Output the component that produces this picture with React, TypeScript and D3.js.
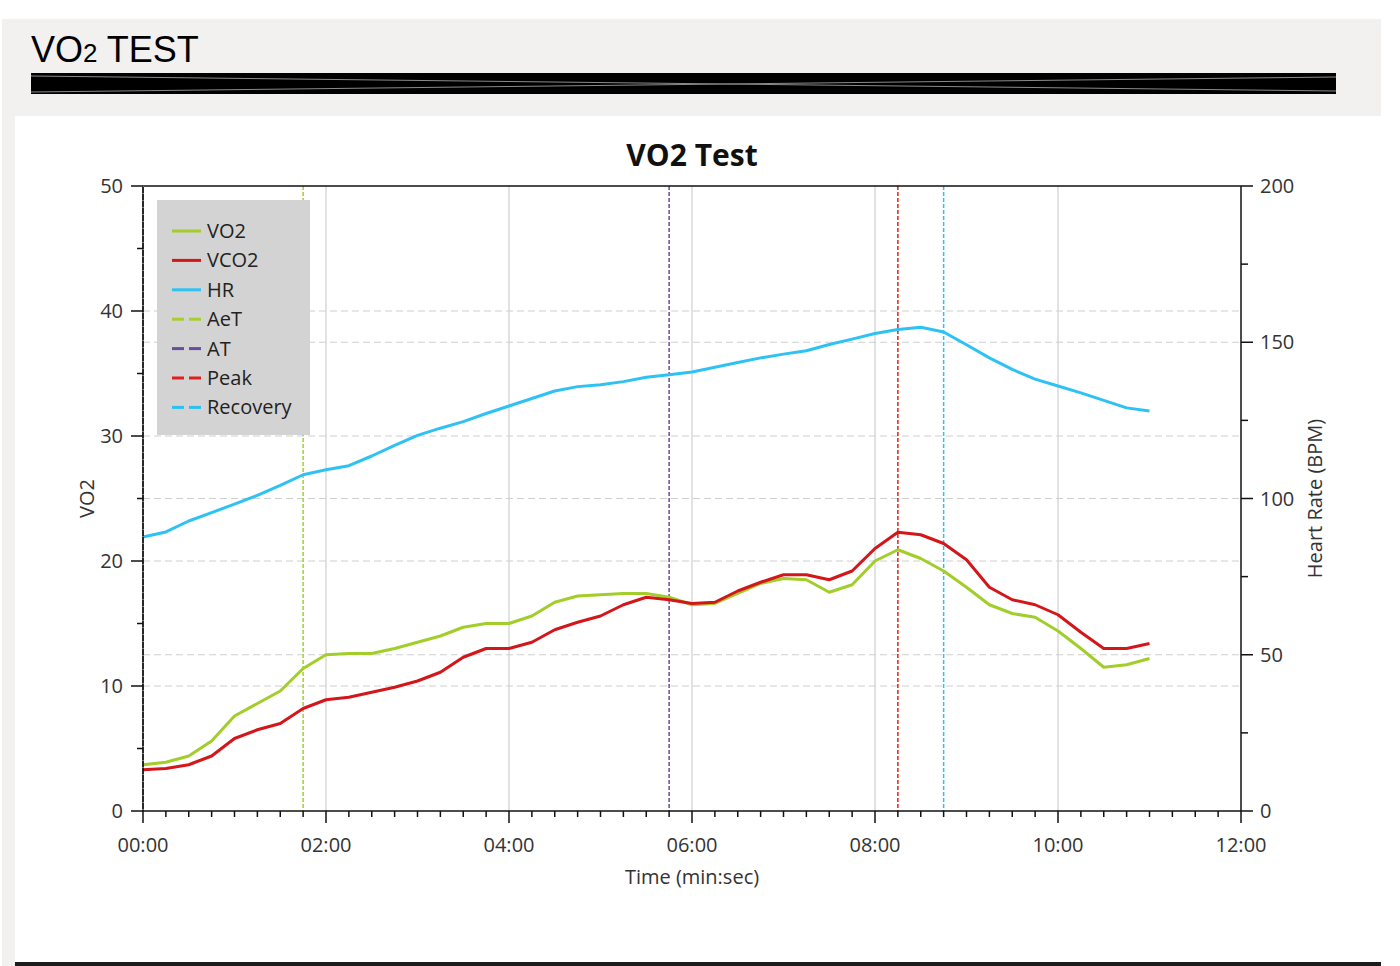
import { useMemo } from 'react';
import * as d3 from 'd3';

const width = 1400;
const height = 966;
const margin = { top: 186, right: 159, bottom: 155, left: 143 };

// Zeitpunkte (min:sec), alle 15 Sekunden
const timeLabels = [
    '00:00', '00:15', '00:30', '00:45', '01:00', '01:15', '01:30', '01:45', '02:00',
    '02:15', '02:30', '02:45', '03:00', '03:15', '03:30', '03:45', '04:00',
    '04:15', '04:30', '04:45', '05:00', '05:15', '05:30', '05:45', '06:00',
    '06:15', '06:30', '06:45', '07:00', '07:15', '07:30', '07:45', '08:00',
    '08:15', '08:30', '08:45', '09:00', '09:15', '09:30', '09:45', '10:00',
    '10:15', '10:30', '10:45', '11:00',
];

const vo2 = [
    3.7, 3.9, 4.4, 5.6, 7.6, 8.6, 9.6, 11.4, 12.5,
    12.6, 12.6, 13.0, 13.5, 14.0, 14.7, 15.0, 15.0,
    15.6, 16.7, 17.2, 17.3, 17.4, 17.4, 17.1, 16.5,
    16.6, 17.4, 18.2, 18.6, 18.5, 17.5, 18.1, 20.0,
    20.9, 20.2, 19.2, 17.9, 16.5, 15.8, 15.5, 14.4,
    13.0, 11.5, 11.7, 12.2,
];

const vco2 = [
    3.3, 3.4, 3.7, 4.4, 5.8, 6.5, 7.0, 8.2, 8.9,
    9.1, 9.5, 9.9, 10.4, 11.1, 12.3, 13.0, 13.0,
    13.5, 14.5, 15.1, 15.6, 16.5, 17.1, 16.9, 16.6,
    16.7, 17.6, 18.3, 18.9, 18.9, 18.5, 19.2, 21.0,
    22.3, 22.1, 21.4, 20.1, 17.9, 16.9, 16.5, 15.7,
    14.3, 13.0, 13.0, 13.4,
];

const hr = [
    87.7, 89.3, 92.8, 95.5, 98.2, 101, 104.2, 107.6, 109.2,
    110.5, 113.6, 117, 120.2, 122.5, 124.6, 127.2, 129.6,
    132, 134.4, 135.8, 136.4, 137.4, 138.8, 139.6, 140.5,
    142, 143.5, 145, 146.2, 147.3, 149.3, 151, 152.8,
    154.1, 154.8, 153.3, 149.2, 145, 141.3, 138.2, 136,
    133.8, 131.4, 129, 128,
];

// Schwellen-Markierungen
const markerNames = ['AeT', 'AT', 'Peak', 'Recovery'];
const markerTimes = ['01:45', '05:45', '08:15', '08:45'];
const markerColors = ['#a6cf2e', '#6a4c9c', '#e0201c', '#2ec0f0'];

const seriesNames = ['VO2', 'VCO2', 'HR'];
const seriesColors = ['#a2cd2a', '#d3161a', '#2ec2f4'];

const xTickValues = [0, 2, 4, 6, 8, 10, 12];

const toMinutes = (s: string) => {
    const [m, sec] = s.split(':').map(Number);
    return m + sec / 60;
};

const fmtTime = (m: number) => d3.format('02')(Math.floor(m)) + ':00';

const font = '"Open Sans", "Noto Sans", sans-serif';

const Vo2Chart = () => {
    const boundsWidth = width - margin.left - margin.right;
    const boundsHeight = height - margin.top - margin.bottom;

    const xScale = useMemo(() => d3.scaleLinear().domain([0, 12]).range([0, boundsWidth]), [boundsWidth]);
    const yScale = useMemo(() => d3.scaleLinear().domain([0, 50]).range([boundsHeight, 0]), [boundsHeight]);
    const hrScale = useMemo(() => d3.scaleLinear().domain([0, 200]).range([boundsHeight, 0]), [boundsHeight]);

    const times = timeLabels.map(toMinutes);

    const leftLine = d3.line<number>()
        .x((_, i) => xScale(times[i]))
        .y((d) => yScale(d));
    const hrLine = d3.line<number>()
        .x((_, i) => xScale(times[i]))
        .y((d) => hrScale(d));

    const minorX = d3.range(0, 48.5).map((i) => i * 0.25).filter((v) => v % 2 !== 0);
    const leftMajor = yScale.ticks(5);
    const leftMinor = d3.range(5, 50, 10);
    const rightMajor = hrScale.ticks(4);
    const rightMinor = d3.range(25, 200, 50);

    return (
        <svg width={width} height={height} style={{ display: 'block' }}>
            <rect x={0} y={0} width={width} height={height} fill="#ffffff" />
            {/* Kopfbereich */}
            <rect x={2} y={19} width={1379} height={97} fill="#f3f1f0" />
            <rect x={2} y={116} width={13} height={850} fill="#f3f1f0" />
            <text x={31} y={62} fontFamily='"Liberation Sans", Arial, sans-serif' fontSize={36} fill="#000">
                VO<tspan fontSize={26}>2</tspan> TEST
            </text>
            <rect x={31} y={73} width={1305} height={21} fill="#000" />
            <line x1={31} y1={76} x2={1336} y2={91} stroke="#8a8a8a" strokeWidth={1} />
            <line x1={31} y1={92} x2={1336} y2={77} stroke="#8a8a8a" strokeWidth={1} />
            <rect x={15} y={962} width={1366} height={4} fill="#1c1c1c" />

            <text x={692} y={166} textAnchor="middle" fontFamily={font} fontWeight={700} fontSize={30} fill="#111">
                VO2 Test
            </text>

            <g transform={`translate(${margin.left},${margin.top})`}>
                {/* Gitter */}
                {xTickValues.filter((v) => v > 0 && v < 12).map((v) => (
                    <line key={'gx' + v} x1={xScale(v)} x2={xScale(v)} y1={0} y2={boundsHeight}
                        stroke="#cfcfcf" strokeWidth={1.2} />
                ))}
                {leftMajor.filter((v) => v > 0 && v < 50).map((v) => (
                    <line key={'gy' + v} x1={0} x2={boundsWidth} y1={yScale(v)} y2={yScale(v)}
                        stroke="#cfcfcf" strokeWidth={1.2} strokeDasharray="7,4" />
                ))}
                {rightMajor.filter((v) => v > 0 && v < 200).map((v) => (
                    <line key={'gh' + v} x1={0} x2={boundsWidth} y1={hrScale(v)} y2={hrScale(v)}
                        stroke="#cfcfcf" strokeWidth={1.2} strokeDasharray="7,4" />
                ))}

                {/* Markierungen */}
                {markerTimes.map((t, i) => (
                    <line key={markerNames[i]} x1={xScale(toMinutes(t))} x2={xScale(toMinutes(t))}
                        y1={0} y2={boundsHeight} stroke={markerColors[i]} strokeWidth={1.5} strokeDasharray="4,2" />
                ))}

                {/* Kurven */}
                <path d={hrLine(hr) || ''} fill="none" stroke={seriesColors[2]} strokeWidth={3} strokeLinejoin="round" />
                <path d={leftLine(vo2) || ''} fill="none" stroke={seriesColors[0]} strokeWidth={3} strokeLinejoin="round" />
                <path d={leftLine(vco2) || ''} fill="none" stroke={seriesColors[1]} strokeWidth={3} strokeLinejoin="round" />

                {/* Achsen */}
                <line x1={0} x2={boundsWidth} y1={0} y2={0} stroke="#111" strokeWidth={1.5} />
                <line x1={0} x2={boundsWidth} y1={boundsHeight} y2={boundsHeight} stroke="#111" strokeWidth={1.5} />
                <line x1={0} x2={0} y1={0} y2={boundsHeight} stroke="#111" strokeWidth={1.8} />
                <line x1={0} x2={0} y1={0} y2={boundsHeight} stroke="#ffffff" strokeWidth={0.8} strokeDasharray="1,6" />
                <line x1={boundsWidth} x2={boundsWidth} y1={0} y2={boundsHeight} stroke="#111" strokeWidth={1.5} />

                {xTickValues.map((v) => (
                    <g key={'xt' + v} transform={`translate(${xScale(v)},${boundsHeight})`}>
                        <line y1={0} y2={12} stroke="#111" strokeWidth={1.5} />
                        <text y={41} textAnchor="middle" fontFamily={font} fontSize={20} fill="#333">{fmtTime(v)}</text>
                    </g>
                ))}
                {minorX.map((v) => (
                    <line key={'xm' + v} x1={xScale(v)} x2={xScale(v)} y1={boundsHeight} y2={boundsHeight + 6}
                        stroke="#111" strokeWidth={1.5} />
                ))}

                {leftMajor.map((v) => (
                    <g key={'yt' + v} transform={`translate(0,${yScale(v)})`}>
                        <line x1={-12} x2={0} stroke="#111" strokeWidth={1.5} />
                        <text x={-20} dy="0.35em" textAnchor="end" fontFamily={font} fontSize={20} fill="#333">{v}</text>
                    </g>
                ))}
                {leftMinor.map((v) => (
                    <line key={'ym' + v} x1={-6} x2={0} y1={yScale(v)} y2={yScale(v)} stroke="#111" strokeWidth={1.5} />
                ))}

                {rightMajor.map((v) => (
                    <g key={'ht' + v} transform={`translate(${boundsWidth},${hrScale(v)})`}>
                        <line x1={0} x2={12} stroke="#111" strokeWidth={1.5} />
                        <text x={19} dy="0.35em" textAnchor="start" fontFamily={font} fontSize={20} fill="#333">{v}</text>
                    </g>
                ))}
                {rightMinor.map((v) => (
                    <line key={'hm' + v} x1={boundsWidth} x2={boundsWidth + 7} y1={hrScale(v)} y2={hrScale(v)}
                        stroke="#111" strokeWidth={1.5} />
                ))}

                {/* Achsentitel */}
                <text x={boundsWidth / 2} y={boundsHeight + 73} textAnchor="middle" fontFamily={font} fontSize={20} fill="#333">
                    Time (min:sec)
                </text>
                <text transform={`translate(-49,${boundsHeight / 2}) rotate(-90)`} textAnchor="middle"
                    fontFamily={font} fontSize={20} fill="#333">VO2</text>
                <text transform={`translate(${boundsWidth + 81},${boundsHeight / 2}) rotate(-90)`} textAnchor="middle"
                    fontFamily={font} fontSize={20} fill="#333">Heart Rate (BPM)</text>

                {/* Legende */}
                <g transform="translate(14,14)">
                    <rect x={0} y={0} width={153} height={235} fill="#d3d3d3" />
                    {[...seriesNames, ...markerNames].map((name, i) => {
                        const isMarker = i >= seriesNames.length;
                        const color = isMarker ? markerColors[i - seriesNames.length] : seriesColors[i];
                        const cy = 31 + i * 29.4;
                        return (
                            <g key={'lg' + name} transform={`translate(0,${cy})`}>
                                {isMarker ? (
                                    <>
                                        <line x1={15} x2={27} stroke={color} strokeWidth={3} />
                                        <line x1={32} x2={44} stroke={color} strokeWidth={3} />
                                    </>
                                ) : (
                                    <line x1={15} x2={44} stroke={color} strokeWidth={3} />
                                )}
                                <text x={50} dy="0.35em" fontFamily={font} fontSize={20} fill="#222">{name}</text>
                            </g>
                        );
                    })}
                </g>
            </g>
        </svg>
    );
};

export default function App() {
    return (
        <div style={{ position: 'fixed', left: 0, top: 0, width, height, overflow: 'hidden' }}>
            <Vo2Chart />
        </div>
    );
}
